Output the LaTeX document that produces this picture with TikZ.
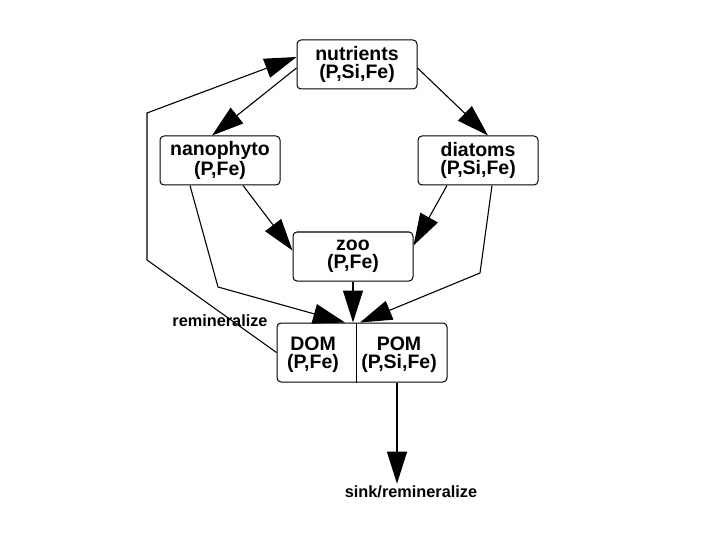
\documentclass[tikz,border=0pt]{standalone}
\usepackage{fontspec}
\setmainfont{Liberation Sans}
\usetikzlibrary{arrows.meta}

\begin{document}
\begin{tikzpicture}[
  x=1pt, y=-1pt,
  box/.style={rectangle, draw, rounded corners=4pt, line width=1pt,
    minimum width=120pt, minimum height=49pt, inner sep=1pt,
    align=center, font=\bfseries\fontsize{19.5}{18}\selectfont},
  txt/.style={align=center, inner sep=0pt,
    font=\bfseries\fontsize{19.5}{18}\selectfont},
  lbl/.style={inner sep=2pt, font=\bfseries\fontsize{16.3}{18}\selectfont},
  arr/.style={-{Triangle[length=32pt, width=20pt]}, line width=1.1pt}
]
\useasboundingbox (0,0) rectangle (720,540);
\node[box] (nut)  at (357,64.5)  {nutrients\\(P,Si,Fe)};
\node[box] (nano) at (220,160.5) {nanophyto\\(P,Fe)};
\node[box] (diat) at (478,160.5) {diatoms\\(P,Si,Fe)};
\node[box] (zoo)  at (353,256.5) {zoo\\(P,Fe)};
\node[box, minimum width=170pt, minimum height=59pt] (pool) at (362,352.5) {};
\node[txt] (dom) at (313,355) {DOM\\(P,Fe)};
\node[txt] (pom) at (399,355) {POM\\(P,Si,Fe)};
\coordinate (split) at (356,352);
\draw[line width=1pt] (split |- pool.north) -- (split |- pool.south);
\node[lbl] (remin) at (220,321) {remineralize};
\node[lbl] (sink)  at (411,492) {sink/remineralize};
% bends
\coordinate (fbA)  at (147,260);
\coordinate (fbB)  at (147,113);
\coordinate (nanoB) at (218,287);
\coordinate (diatB) at (480,273);
\draw[arr] ([yshift=-3.5pt]nut.west) -- ([xshift=-8pt]nano.north);
\draw[arr] ([yshift=-3.5pt]nut.east) -- ([xshift=10pt]diat.north);
\draw[arr] ([xshift=23pt]nano.south) -- ([yshift=6pt]zoo.west);
\draw[arr] ([xshift=-31pt]diat.south) -- ([yshift=11pt]zoo.east);
\draw[arr] ([xshift=-30pt]nano.south) -- (nanoB) -- ([xshift=-17pt]pool.north);
\draw[arr] ([xshift=14pt]diat.south) -- (diatB) -- ([xshift=-2pt]pool.north);
\draw[arr] (zoo.south) -- (zoo.south |- pool.north);
\draw[arr] (pool.west) -- (fbA) -- (fbB) -- ([yshift=7.5pt]nut.west);
\draw[arr] ([xshift=35pt]pool.south) -- ([xshift=35pt]pool.south |- sink.north);
\end{tikzpicture}
\end{document}
